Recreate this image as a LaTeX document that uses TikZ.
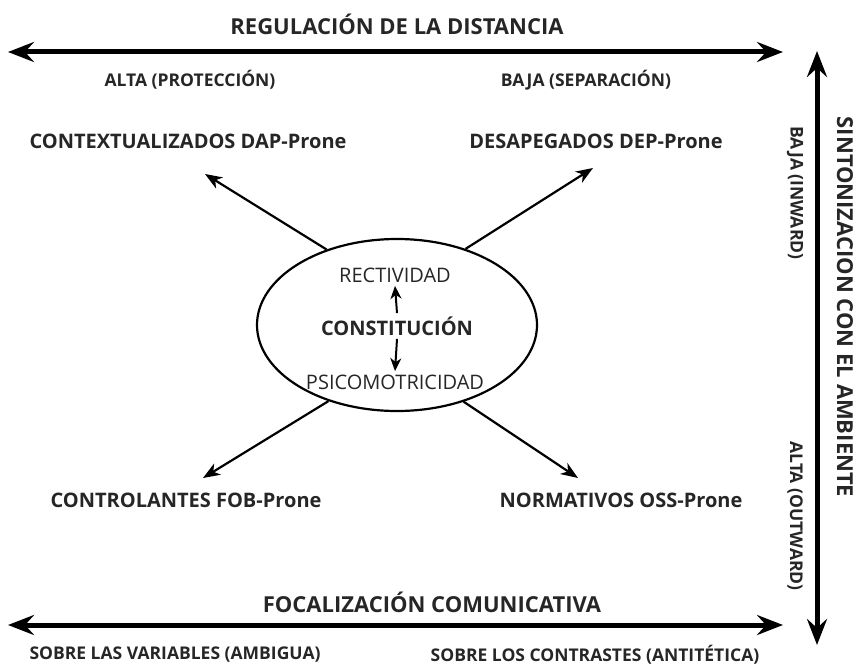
\documentclass[tikz,border=0pt]{standalone}
\usepackage{fontspec}
\setmainfont{Open Sans}
\usetikzlibrary{arrows.meta,shapes.geometric}
\begin{document}
\begin{tikzpicture}[x=1pt,y=-1pt,
 axis/.style={line width=5pt,{Stealth[length=26pt,width=20pt,inset=9pt]}-{Stealth[length=26pt,width=20pt,inset=9pt]}},
 ray/.style={line width=2.2pt,-{Stealth[length=17pt,width=13pt,inset=5pt]}},
 small/.style={line width=2pt,-{Stealth[length=13pt,width=11pt,inset=4pt]}},
 titulo/.style={font=\fontsize{22}{24}\selectfont\bfseries,text=black!85},
 etiq/.style={font=\fontsize{20}{22}\selectfont\bfseries,text=black!85},
 polo/.style={font=\fontsize{17.5}{18}\selectfont\bfseries,text=black!85},
 centro/.style={font=\fontsize{20}{21}\selectfont,text=black!85}]
 \useasboundingbox (0,0) rectangle (859,666);
 % ejes
 \coordinate (hl) at (8,52); \coordinate (hr) at (783,52);
 \coordinate (bl) at (8,625); \coordinate (br) at (783,625);
 \coordinate (vt) at (817,51); \coordinate (vb) at (817,645);
 \draw[axis] (hl) -- (hr);
 \draw[axis] (bl) -- (br);
 \draw[axis] (vt) -- (vb);
 \node[titulo] (dist) at (397,24) {REGULACIÓN DE LA DISTANCIA};
 \node[titulo] (foco) at (432,602) {FOCALIZACIÓN COMUNICATIVA};
 \node[titulo,rotate=-90] (sint) at (845,307) {SINTONIZACION CON EL AMBIENTE};
 \node[polo] (alta) at (190,80) {ALTA (PROTECCIÓN)};
 \node[polo] (baja) at (586,80) {BAJA (SEPARACIÓN)};
 \node[polo,rotate=-90] (inw) at (795,193) {BAJA (INWARD)};
 \node[polo,rotate=-90] (outw) at (795,516) {ALTA (OUTWARD)};
 \node[polo] (ambi) at (175,655) {SOBRE LAS VARIABLES (AMBIGUA)};
 \node[polo] (anti) at (595,655) {SOBRE LOS CONTRASTES (ANTITÉTICA)};
 % centro
 \node[draw,ellipse,line width=2.2pt,inner sep=0pt,minimum width=280pt,minimum height=172pt] (core) at (397,325) {};
 \node[centro] (rect) at (395,275) {RECTIVIDAD};
 \node[centro,font=\fontsize{20}{21}\selectfont\bfseries] (const) at (397,326) {CONSTITUCIÓN};
 \node[centro] (psico) at (395,382) {PSICOMOTRICIDAD};
 \draw[small] (const.north) -- (rect.south);
 \draw[small] (const.south) -- (psico.north);
 % tipos
 \node[etiq] (dap) at (188,141) {CONTEXTUALIZADOS DAP-Prone};
 \node[etiq] (dep) at (596,141) {DESAPEGADOS DEP-Prone};
 \node[etiq] (fob) at (186,500) {CONTROLANTES FOB-Prone};
 \node[etiq] (oss) at (621,500) {NORMATIVOS OSS-Prone};
 \coordinate (tdap) at (205,174); \coordinate (tdep) at (593,168);
 \coordinate (tfob) at (203,478); \coordinate (toss) at (578,478);
 \draw[ray] (core.133) -- (tdap);
 \draw[ray] (core.48) -- (tdep);
 \draw[ray] (core.228) -- (tfob);
 \draw[ray] (core.311) -- (toss);
\end{tikzpicture}
\end{document}
